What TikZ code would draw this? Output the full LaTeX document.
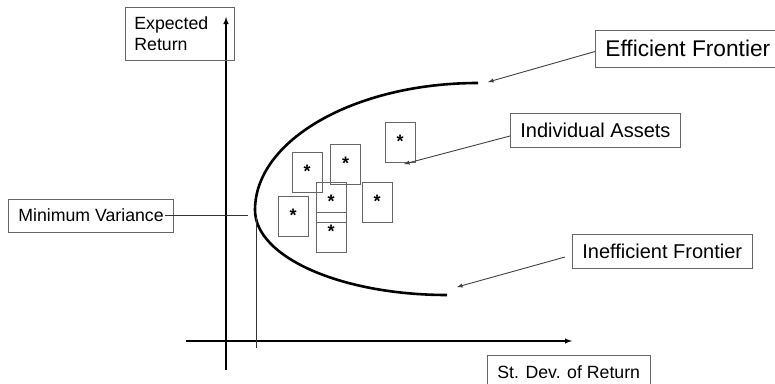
\documentclass[tikz,border=0pt]{standalone}
\usepackage{fontspec}
\setmainfont{Liberation Sans}
\usetikzlibrary{arrows}

\begin{document}
\begin{tikzpicture}[
			     x=1pt, y=-1pt,
			     >=latex,
			     labelbox/.style={draw=black!60, line width=0.8pt, inner xsep=10pt, anchor=west, font=\fontsize{17.7}{21}\selectfont},
			     assetbox/.style={draw=black!60, line width=0.9pt, minimum width=30pt, minimum height=40pt, inner sep=0pt, font=\fontsize{18}{18}\selectfont\bfseries, text depth=2pt},
			     pointer/.style={->, draw=black!75, line width=0.9pt},
			     axis/.style={->, line width=1.4pt},
			     frontier/.style={line width=2.6pt}
			     ] 
\useasboundingbox (0,0) rectangle (775,383);

% axes
\coordinate (ybot) at (226,370);
\coordinate (ytop) at (226,17);
\coordinate (xleft) at (186,341);
\coordinate (xright) at (572,341);
\path (ybot) edge[axis] (ytop);
\path (xleft) edge[axis] (xright);

\node[labelbox, anchor=north west, align=left, text width=91pt, inner xsep=9pt, minimum height=53pt] (yname) at (125,7) {Expected\\Return};
\node[labelbox, anchor=north west, minimum height=34pt] (xname) at (487,355) {St. Dev. of Return};

% frontier
\coordinate (efftop) at (478,83);
\coordinate (vertex) at (255,210);
\coordinate (ineffbot) at (447,295);
\draw[frontier] (efftop) .. controls (355,83) and (255,140) .. (vertex)
                         .. controls (255,257) and (341,295) .. (ineffbot);

% minimum variance
\node[labelbox, minimum height=33pt] (minvar) at (8,215.5) {Minimum Variance};
\coordinate (mvfrom) at (165,215);
\coordinate (mvto) at (248,215);
\coordinate (sdtop) at (256,217);
\coordinate (sdbot) at (256,348);
\draw[black!80, line width=0.8pt] (mvfrom) -- (mvto);
\draw[black!80, line width=0.8pt] (sdtop) -- (sdbot);

% individual assets
\node[assetbox] (a1) at (400,142) {*};
\node[assetbox] (a2) at (307,172) {*};
\node[assetbox] (a3) at (345.5,164) {*};
\node[assetbox] (a4) at (331,202) {*};
\node[assetbox] (a5) at (331,232.5) {*};
\node[assetbox] (a6) at (377,202) {*};
\node[assetbox] (a7) at (293,216.5) {*};

% labels
\node[labelbox, font=\fontsize{22.7}{26}\selectfont, minimum height=37pt] (eff) at (595,48.5) {Efficient Frontier};
\node[labelbox, font=\fontsize{20}{24}\selectfont, minimum height=34pt] (assets) at (510,130) {Individual Assets};
\node[labelbox, font=\fontsize{20}{24}\selectfont, minimum height=34pt] (ineff) at (572,251) {Inefficient Frontier};

\coordinate (efftip) at (488,82);
\coordinate (assetstip) at (404,164);
\coordinate (inefffrom) at (565,257);
\coordinate (inefftip) at (457,287);
\path ([yshift=-3pt]eff.west) edge[pointer] (efftip);
\path ([yshift=-6pt]assets.west) edge[pointer] (assetstip);
\path (inefffrom) edge[pointer] (inefftip);
\end{tikzpicture}
\end{document}
